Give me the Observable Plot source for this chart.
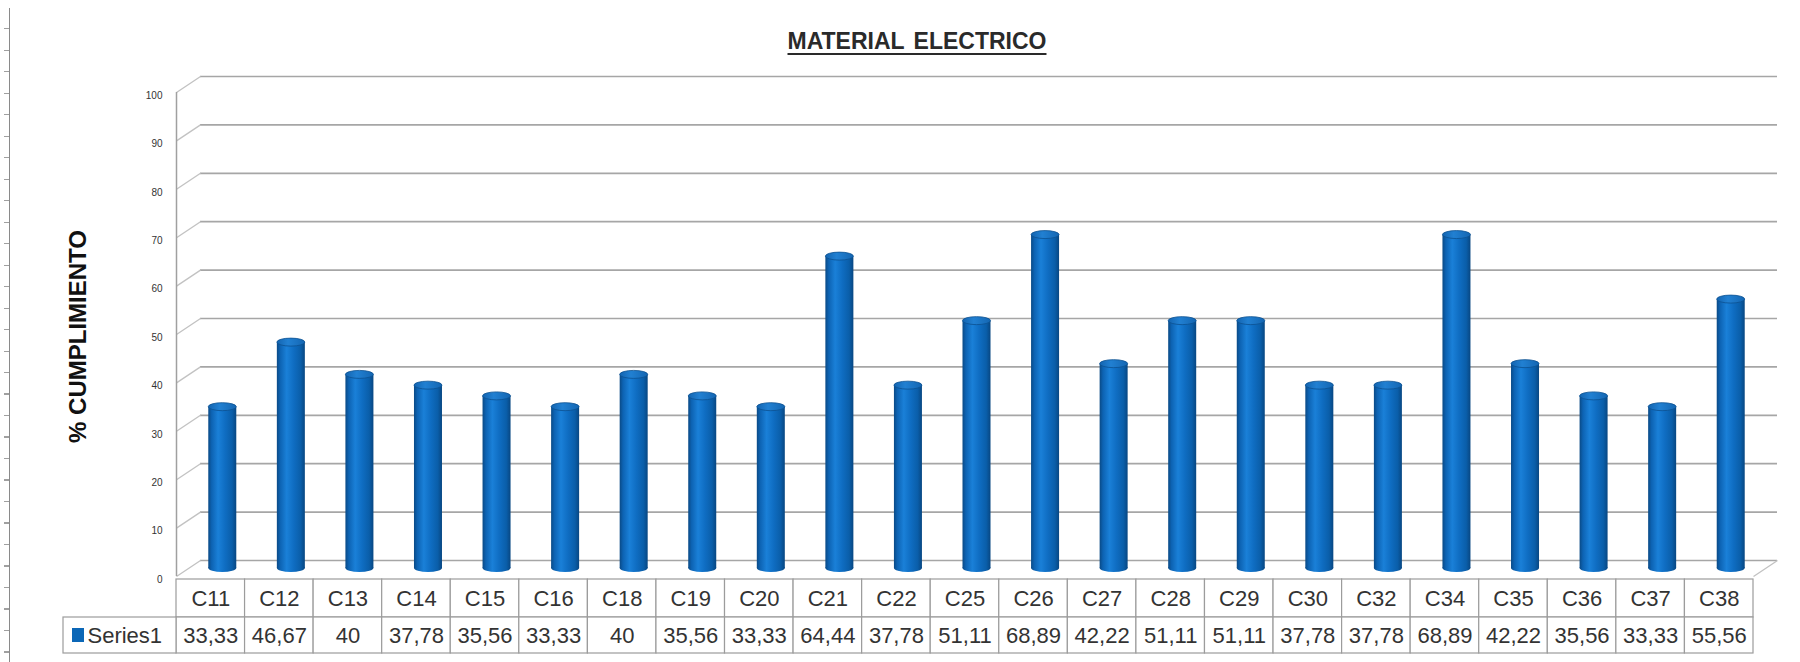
<!DOCTYPE html>
<html>
<head>
<meta charset="utf-8">
<script src="https://cdn.jsdelivr.net/npm/d3@7"></script>
<script src="https://cdn.jsdelivr.net/npm/@observablehq/plot@0.6"></script>
<style>
  body { margin: 0; background: #fff; }
  #wrap { position: relative; width: 1800px; height: 662px; overflow: hidden; font-family: "Liberation Sans", Arial, sans-serif; background: #fff; }
  #title { position: relative; height: 62px; }
  #title span { position: absolute; left: 617px; width: 600px; top: 29px; text-align: center; font-size: 23px; font-weight: bold; line-height: 24px; color: #2a2a2a; text-decoration: underline; text-decoration-thickness: 2px; text-underline-offset: 4px; word-spacing: 3px; }
  #border { position: absolute; left: 4px; top: 8px; width: 5px; height: 654px; border-right: 1.5px solid #8a8a8a;
            background: repeating-linear-gradient(to bottom, transparent 0 20px, #a0a0a0 20px 21.5px); }
</style>
</head>
<body>
<div id="wrap">
  <div id="title"><span>MATERIAL ELECTRICO</span></div>
  <div id="chart"></div>
  <div id="border"></div>
</div>
<script>
// ---- data ----
const categories = ["C11","C12","C13","C14","C15","C16","C18","C19","C20","C21","C22","C25","C26","C27","C28","C29","C30","C32","C34","C35","C36","C37","C38"];
const values = [33.33,46.67,40,37.78,35.56,33.33,40,35.56,33.33,64.44,37.78,51.11,68.89,42.22,51.11,51.11,37.78,37.78,68.89,42.22,35.56,33.33,55.56];
const yTicks = [0,10,20,30,40,50,60,70,80,90,100];
const seriesName = "Series1";
const yLabel = "% CUMPLIMIENTO";

// ---- layout ----
const W = 1800, H = 600;
const ML = 176, MR = 47, MT = 30, MB = 86;
const n = categories.length;
const xUnit = (W - ML - MR) / n;
const yUnit = (H - MT - MB) / 100;
const ux = px => (px - ML) / xUnit;       // pixel -> x units
const uy = py => (H - MB - py) / yUnit;   // pixel -> y units
const DX = 24 / xUnit, DY = 16 / yUnit;   // 3D depth offset
const barW = 28;
const barInset = (xUnit - barW) / 2;
const fmt = v => String(v).replace(".", ",");
const data = categories.map((c, i) => ({c, i, v: values[i]}));

const gridColor = "#a6a6a6";
const tableColor = "#9c9c9c";
const textColor = "#333";

const svg = Plot.plot({
  width: W, height: H,
  marginLeft: ML, marginRight: MR, marginTop: MT, marginBottom: MB,
  x: {domain: [0, n], axis: null},
  y: {domain: [0, 100], axis: null},
  style: {fontFamily: "'Liberation Sans', Arial, sans-serif", background: "transparent", overflow: "visible"},
  marks: [
    // back wall gridlines
    Plot.ruleY(yTicks, {y: d => d + DY, x1: DX, x2: n + DX, stroke: gridColor, strokeWidth: 1.7}),
    // left side-wall diagonals
    Plot.link(yTicks, {x1: 0, y1: d => d, x2: DX, y2: d => d + DY, stroke: "#c2c2c2", strokeWidth: 1.3}),
    // floor right diagonal
    Plot.link([0], {x1: n, y1: d => d, x2: n + DX, y2: d => d + DY, stroke: "#c2c2c2", strokeWidth: 1.3}),
    // front vertical axis
    Plot.ruleX([0], {y1: 0, y2: 100, stroke: "#a0a0a0", strokeWidth: 1.5}),
    // y tick labels
    Plot.text(yTicks, {x: 0, y: d => d, text: d => String(d), dx: -14, dy: 3, textAnchor: "end", fontSize: 10, fill: textColor}),
    // cylinders: bottom cap
    Plot.rect(data, {x1: d => d.i + DX / 2, x2: d => d.i + 1 + DX / 2, y1: DY / 2, y2: DY / 2,
      insetLeft: barInset, insetRight: barInset, insetTop: -4, insetBottom: -4, rx: barW / 2, ry: 4, fill: "url(#cyl)"}),
    // cylinders: body
    Plot.rect(data, {x1: d => d.i + DX / 2, x2: d => d.i + 1 + DX / 2, y1: DY / 2, y2: d => d.v + DY / 2,
      insetLeft: barInset, insetRight: barInset, fill: "url(#cyl)"}),
    // cylinders: top cap
    Plot.rect(data, {x1: d => d.i + DX / 2, x2: d => d.i + 1 + DX / 2, y1: d => d.v + DY / 2, y2: d => d.v + DY / 2,
      insetLeft: barInset, insetRight: barInset, insetTop: -4, insetBottom: -4, rx: barW / 2, ry: 4,
      fill: "url(#cap)", stroke: "#0b5091", strokeWidth: 0.8}),
    // data table: category row
    Plot.rect(data, {x1: d => d.i, x2: d => d.i + 1, y1: uy(517), y2: uy(555), fill: "white", stroke: tableColor, strokeWidth: 1.2}),
    // data table: value row
    Plot.rect(data, {x1: d => d.i, x2: d => d.i + 1, y1: uy(555), y2: uy(591), fill: "white", stroke: tableColor, strokeWidth: 1.2}),
    // legend cell
    Plot.rect([seriesName], {x1: ux(63), x2: 0, y1: uy(555), y2: uy(591), fill: "white", stroke: tableColor, strokeWidth: 1.2}),
    Plot.rect([seriesName], {x1: ux(72), x2: ux(84), y1: uy(566), y2: uy(580), fill: "#0b67b7"}),
    Plot.text([seriesName], {x: ux(87), y: uy(573), text: d => d, textAnchor: "start", fontSize: 22, fill: textColor}),
    // table texts
    Plot.text(data, {x: d => d.i + 0.5, y: uy(536), text: "c", fontSize: 22, fill: textColor}),
    Plot.text(data, {x: d => d.i + 0.5, y: uy(573), text: d => fmt(d.v), fontSize: 22, fill: textColor}),
    // y axis label
    Plot.text([yLabel], {x: ux(78), y: uy(274), rotate: -90, text: d => d, fontSize: 24, fontWeight: "bold", fill: "#111"})
  ]
});

// gradients for the cylinder shading
const defs = d3.select(svg).insert("defs", ":first-child");
const g1 = defs.append("linearGradient").attr("id", "cyl").attr("x1", 0).attr("x2", 1).attr("y1", 0).attr("y2", 0);
[[0, "#0a4a86"], [0.12, "#0d63b3"], [0.35, "#1a80d8"], [0.6, "#0f6dc2"], [0.85, "#0a5ea9"], [1, "#084782"]]
  .forEach(([o, c]) => g1.append("stop").attr("offset", o).attr("stop-color", c));
const g2 = defs.append("linearGradient").attr("id", "cap").attr("x1", 0).attr("x2", 1).attr("y1", 0).attr("y2", 0);
[[0, "#1364b0"], [0.4, "#2180d2"], [1, "#1466b2"]]
  .forEach(([o, c]) => g2.append("stop").attr("offset", o).attr("stop-color", c));

document.getElementById("chart").appendChild(svg);
</script>
</body>
</html>
